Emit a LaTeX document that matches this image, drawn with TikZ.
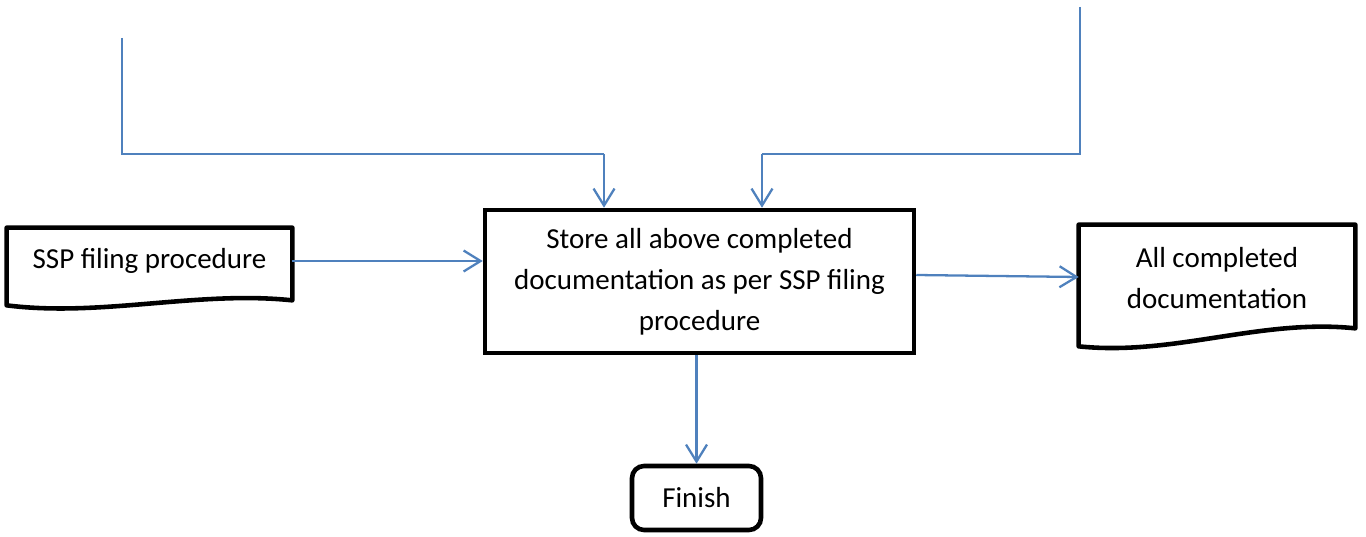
\documentclass[tikz,border=0pt]{standalone}
\usepackage{fontspec}
\setmainfont{Carlito}
\usetikzlibrary{arrows.meta, positioning}

\definecolor{flowblue}{RGB}{79,129,189}

\tikzset{
	box/.style={draw, line width=2.6pt, rectangle, align=center, inner sep=0pt},
	doc/.style={draw, line width=2.6pt, line join=round},
	flow/.style={draw=flowblue, line width=1.3pt, -{Straight Barb[length=0.34cm, width=0.42cm]}},
	wire/.style={draw=flowblue, line width=1.3pt}
}

\begin{document}
	\begin{tikzpicture}[x=0.02cm, y=-0.02cm, font=\fontsize{16.5}{23.3}\selectfont]
		\useasboundingbox (0, 0) rectangle (1366, 537);

		% Store step
		\begin{scope}
			\node (store) at (699.5, 281.5) [box, minimum width=8.58cm, minimum height=2.86cm] {Store all above completed\\documentation as per SSP filing\\procedure};
			\node (finish) at (696.5, 498) [box, rounded corners=0.24cm, minimum width=2.58cm, minimum height=1.28cm] {Finish};
		\end{scope}

		% Documents
		\begin{scope}
			\node (ssp) at (149.5, 261) [minimum width=5.7cm, minimum height=1.32cm, inner sep=0pt] {SSP filing procedure};
			\draw[doc] (ssp.north west) -- (ssp.north east) -- ([yshift=-0.12cm]ssp.south east)
				.. controls +(-95, -10) and +(95, 12) .. ([yshift=-0.22cm]ssp.south west) -- cycle;

			\node (alldoc) at (1217, 278) [minimum width=5.52cm, minimum height=2.12cm, inner sep=0pt, align=center] {All completed\\documentation};
			\draw[doc] (alldoc.north west) -- (alldoc.north east) -- ([yshift=0.06cm]alldoc.south east)
				.. controls +(-95, -10) and +(95, 10) .. ([yshift=-0.3cm]alldoc.south west) -- cycle;
		\end{scope}

		% Inputs from above
		\begin{scope}
			\coordinate (lefttop) at (122, 38);
			\coordinate (righttop) at (1080, 7);
			\coordinate (bend) at (0, 154);
			\coordinate (inleft) at ([xshift=-1.91cm]store.north);
			\coordinate (inright) at ([xshift=1.25cm]store.north);
		\end{scope}

		\draw[wire] (lefttop) |- (bend -| inleft);
		\draw[flow] (bend -| inleft) -- (inleft);
		\draw[wire] (righttop) |- (bend -| inright);
		\draw[flow] (bend -| inright) -- (inright);

		\draw[flow] (ssp.east) -- (ssp.east -| store.west);
		\draw[flow] ([yshift=0.13cm]store.east) -- ([yshift=0.02cm]alldoc.west);
		\draw[flow] (finish.north |- store.south) -- (finish.north);

	\end{tikzpicture}
\end{document}
